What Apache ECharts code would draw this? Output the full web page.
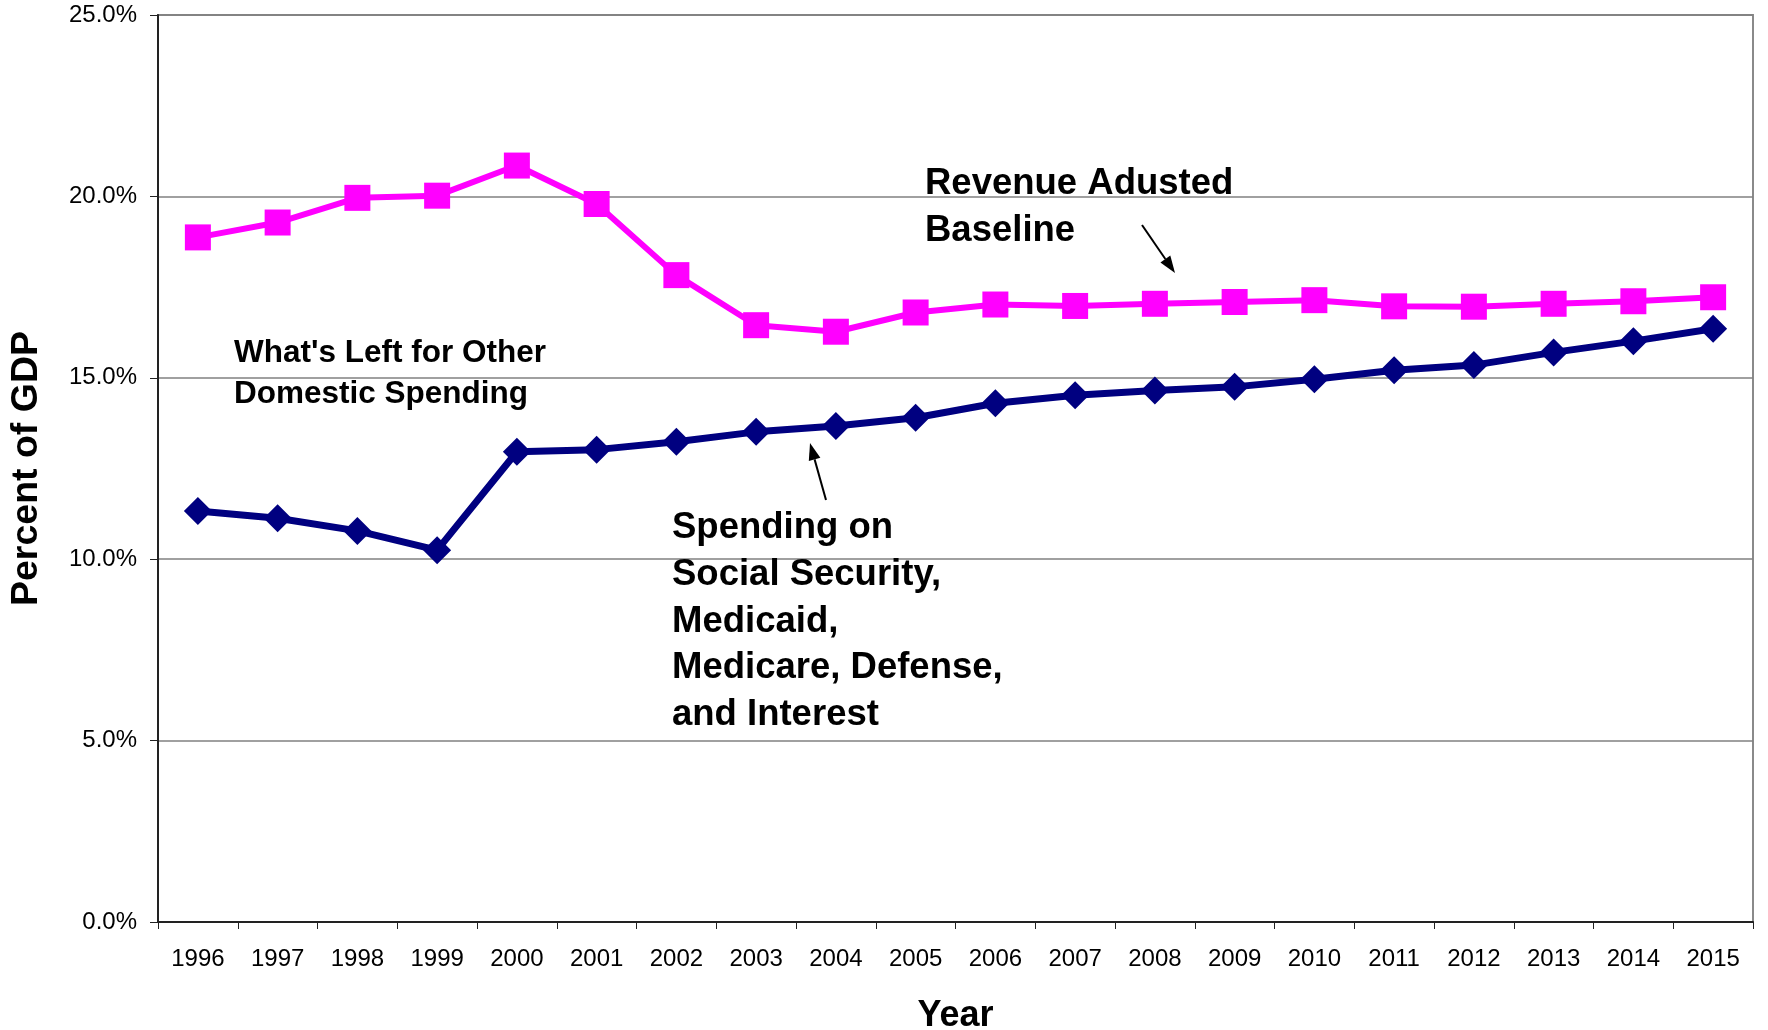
<!DOCTYPE html>
<html>
<head>
<meta charset="utf-8">
<script src="https://cdn.jsdelivr.net/npm/echarts@6/dist/echarts.min.js"></script>
<style>
html,body{margin:0;padding:0;background:#fff;}
#chart{width:1768px;height:1030px;}
</style>
</head>
<body>
<div id="chart"></div>
<script>
const years = ['1996','1997','1998','1999','2000','2001','2002','2003','2004','2005','2006','2007','2008','2009','2010','2011','2012','2013','2014','2015'];
const revenueBaseline = [18.87,19.28,19.96,20.02,20.85,19.79,17.83,16.45,16.27,16.80,17.02,16.98,17.04,17.09,17.14,16.97,16.96,17.04,17.11,17.22];
const mandatorySpending = [11.33,11.13,10.78,10.25,12.96,13.02,13.24,13.51,13.67,13.90,14.30,14.52,14.65,14.75,14.96,15.21,15.35,15.70,16.01,16.35];
const yTicks = [0,5,10,15,20,25];

const FONT = '"Liberation Sans", Arial, Helvetica, sans-serif';
const chart = echarts.init(document.getElementById('chart'));

function arrow(x1,y1,x2,y2){
  const dx=x2-x1, dy=y2-y1, len=Math.sqrt(dx*dx+dy*dy);
  const ux=dx/len, uy=dy/len, nx=-uy, ny=ux;
  const hl=17, hw=6;
  const bx=x2-hl*ux, by=y2-hl*uy;
  return [
    {type:'line', shape:{x1:x1,y1:y1,x2:bx,y2:by}, style:{stroke:'#000',lineWidth:2}},
    {type:'polygon', shape:{points:[[x2,y2],[bx+hw*nx,by+hw*ny],[bx-hw*nx,by-hw*ny]]}, style:{fill:'#000'}}
  ];
}

const option = {
  animation:false,
  backgroundColor:'#fff',
  grid:{left:158,right:15,top:15,bottom:108,containLabel:false,outerBoundsMode:'none',show:true,borderColor:'#8a8a8a',borderWidth:2,backgroundColor:'transparent'},
  xAxis:{
    type:'category',
    data:years,
    boundaryGap:true,
    name:'Year',
    nameLocation:'middle',
    nameGap:76,
    nameTextStyle:{fontFamily:FONT,fontSize:36,fontWeight:'bold',color:'#000',verticalAlign:'top'},
    axisLine:{show:true,lineStyle:{color:'#222',width:2}},
    axisTick:{show:true,alignWithLabel:false,length:7,lineStyle:{color:'#222',width:1}},
    axisLabel:{fontFamily:FONT,fontSize:24,color:'#000',margin:25,interval:0},
    splitLine:{show:false}
  },
  yAxis:{
    type:'value',
    min:yTicks[0],max:yTicks[yTicks.length-1],interval:5,
    name:'Percent of GDP',
    nameLocation:'middle',
    nameGap:112,
    nameRotate:90,
    nameTextStyle:{fontFamily:FONT,fontSize:37.5,fontWeight:'bold',color:'#000'},
    axisLine:{show:true,lineStyle:{color:'#222',width:2}},
    axisTick:{show:true,length:8,lineStyle:{color:'#222',width:1}},
    axisLabel:{fontFamily:FONT,fontSize:24,color:'#000',margin:21,formatter:function(v){return v.toFixed(1)+'%';}},
    splitLine:{show:true,lineStyle:{color:'#808080',width:1.5}}
  },
  series:[
    {
      name:'Revenue Adjusted Baseline',
      type:'line',
      data:revenueBaseline,
      symbol:'rect',
      symbolSize:26,
      lineStyle:{color:'#ff00ff',width:6},
      itemStyle:{color:'#ff00ff'},
      z:3
    },
    {
      name:'Spending on Social Security, Medicaid, Medicare, Defense, and Interest',
      type:'line',
      data:mandatorySpending,
      symbol:'diamond',
      symbolSize:28,
      lineStyle:{color:'#000080',width:7},
      itemStyle:{color:'#000080'},
      z:3
    }
  ],
  graphic:[
    {type:'text', left:925, top:160, z:10, style:{text:'Revenue Adusted\nBaseline', font:'bold 36.5px '+FONT, fill:'#000', lineHeight:47}},
    {type:'text', left:234, top:333, z:10, style:{text:"What's Left for Other\nDomestic Spending", font:'bold 31.5px '+FONT, fill:'#000', lineHeight:41}},
    {type:'text', left:672, top:505, z:10, style:{text:'Spending on\nSocial Security,\nMedicaid,\nMedicare, Defense,\nand Interest', font:'bold 36.5px '+FONT, fill:'#000', lineHeight:46.6}}
  ].concat(arrow(1142,225,1175,273)).concat(arrow(826,500,810,443))
};
chart.setOption(option);
</script>
</body>
</html>
